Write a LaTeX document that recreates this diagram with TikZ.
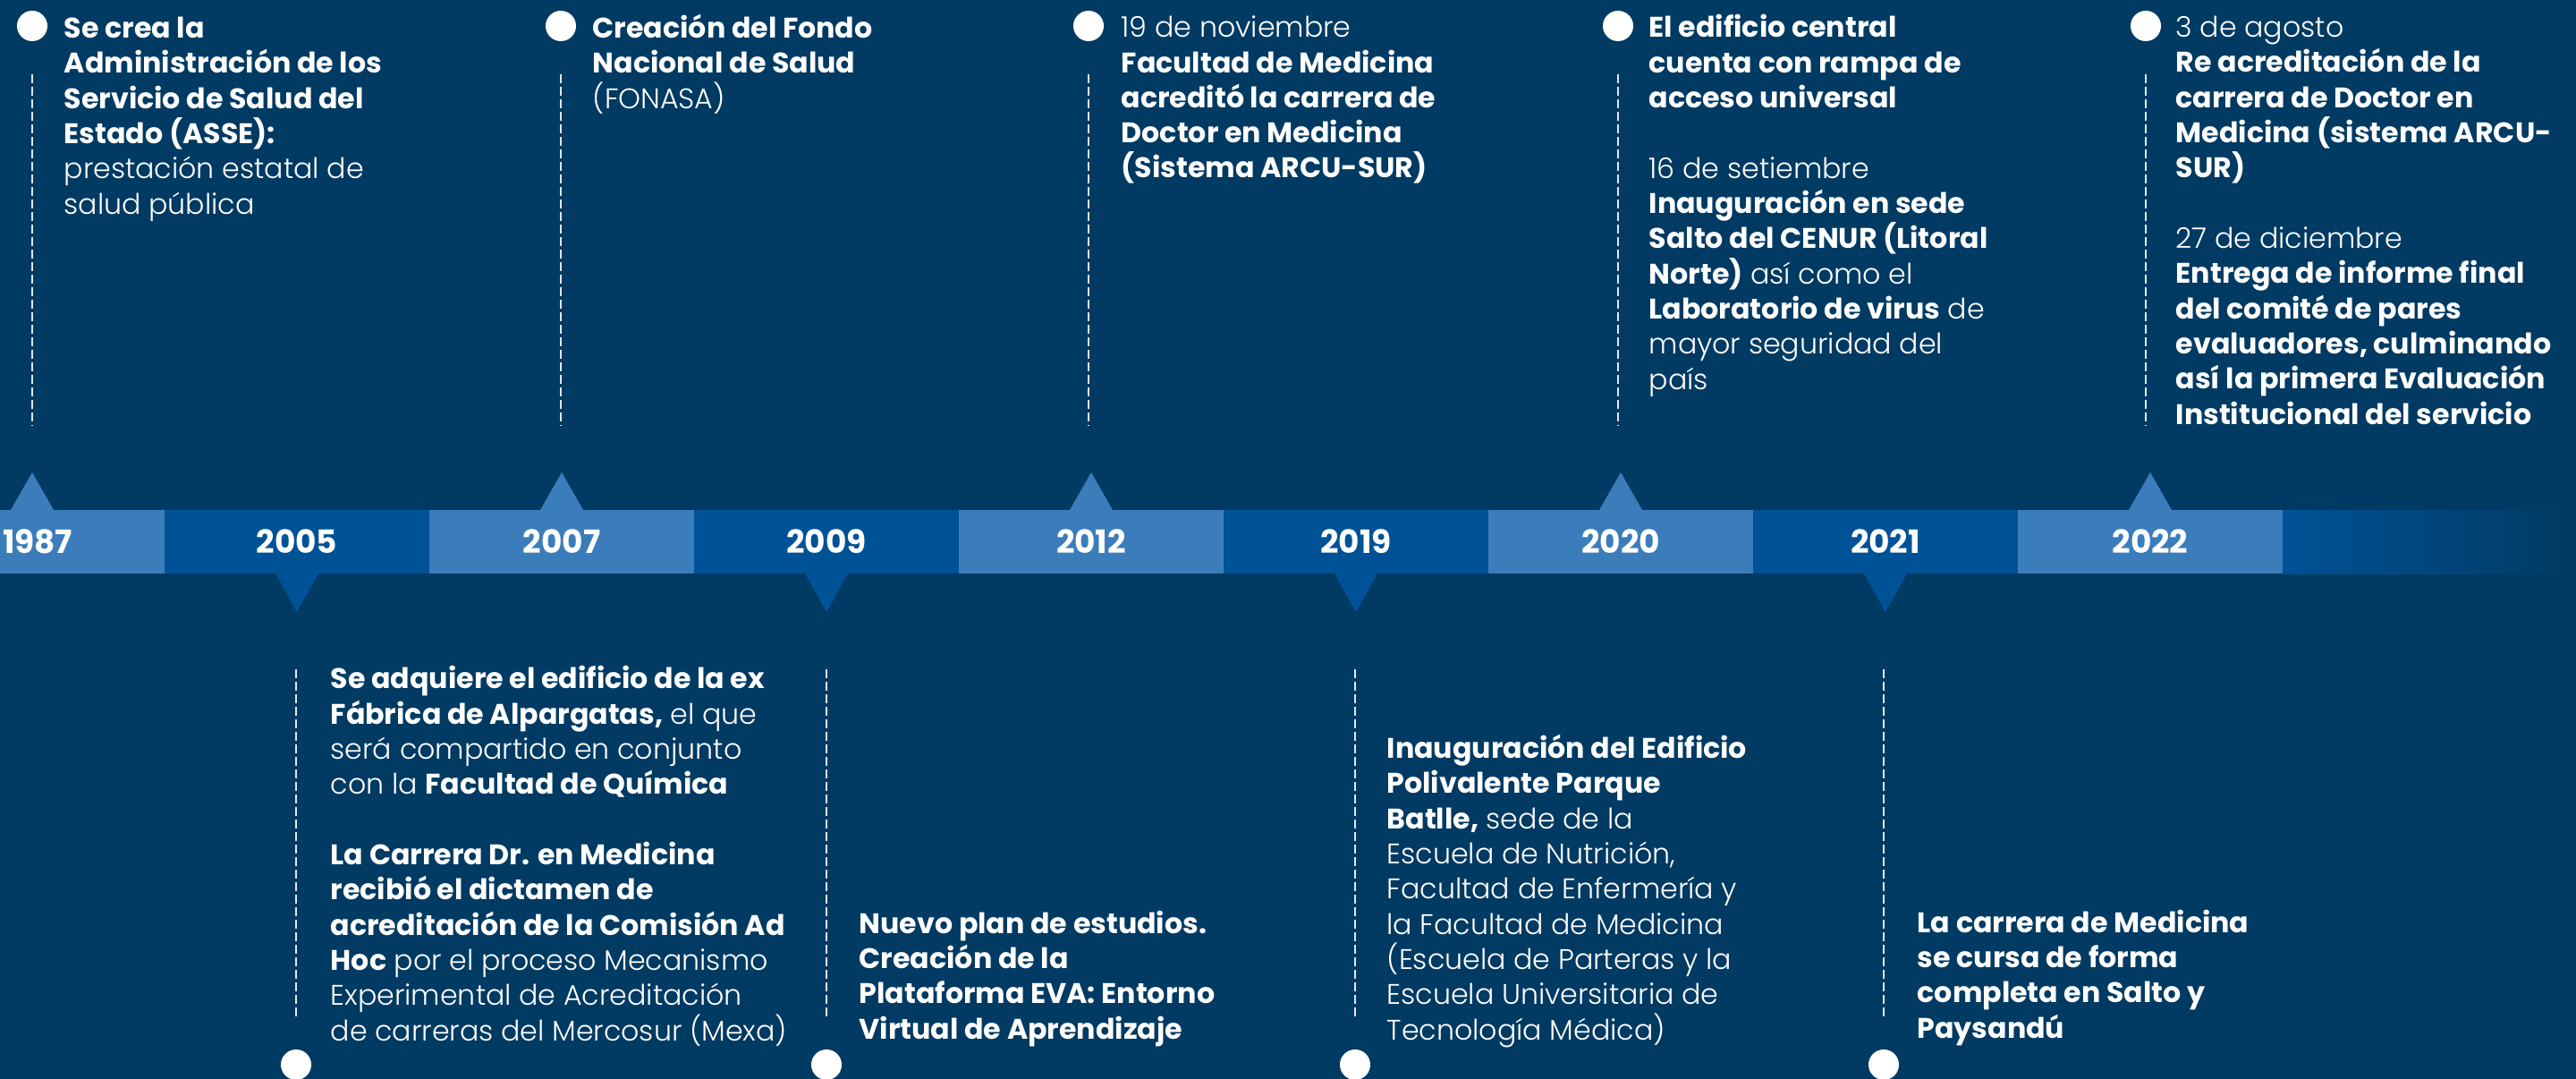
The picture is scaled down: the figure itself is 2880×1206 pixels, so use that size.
\documentclass[tikz,border=0pt]{standalone}
\usepackage{fontspec}
\setmainfont{Poppins}[UprightFont=* Light,BoldFont=* Bold]

\definecolor{bgnavy}{HTML}{013A62}
\definecolor{seglight}{HTML}{3B7DBA}
\definecolor{segdark}{HTML}{005296}

\tikzset{
  seg/.style={minimum width=2.96cm,minimum height=0.71cm,inner sep=0pt,outer sep=0pt,
    text=white,font=\fontsize{10.2}{12}\selectfont\bfseries},
  seglt/.style={seg,fill=seglight},
  segdk/.style={seg,fill=segdark},
  dot/.style={circle,fill=white,minimum size=0.34cm,inner sep=0pt},
  dashline/.style={white!88!bgnavy,line width=0.022cm,dash pattern=on 0.1cm off 0.04cm,shorten <=0.36cm},
  evtxt/.style={align=left,inner sep=0pt,anchor=base west,text=white,
    font=\fontsize{9}{11.18}\selectfont}
}

\begin{document}
\begin{tikzpicture}[x=0.01cm,y=-0.01cm]
        \clip (0,0) rectangle (2880,1206);
        \fill[bgnavy] (0,0) rectangle (2880,1206);
        \shade[left color=segdark,right color=bgnavy] (2552,570) rectangle (2880,641);

        \node[seglt] (y1987) at (36,605.5) {\hspace*{0.12cm}1987};
        \foreach \yr/\cx/\sty in {2005/332/segdk,2007/628/seglt,2009/924/segdk,
                2012/1220/seglt,2019/1516/segdk,2020/1812/seglt,2021/2108/segdk,2022/2404/seglt}
                \node[\sty] (y\yr) at (\cx,605.5) {\yr};

        \foreach \yr in {1987,2007,2012,2020,2022}
                \fill[seglight] (y\yr.north) ++(-24,0) -- ++(24,-42) -- ++(24,42) -- cycle;
        \foreach \yr in {2005,2009,2019,2021}
                \fill[segdark] (y\yr.south) ++(-24,0) -- ++(24,43) -- ++(24,-43) -- cycle;

        \foreach \yr/\cx in {1987/36,2007/627,2012/1217,2020/1809,2022/2399} {
                \node[dot] (c\yr) at (\cx,29) {};
                \coordinate (e\yr) at (\cx,475);
                \draw[dashline] (c\yr) -- (e\yr);
        }
        \foreach \yr/\cx in {2005/331,2009/924,2019/1515,2021/2106} {
                \node[dot] (c\yr) at (\cx,1190) {};
                \coordinate (e\yr) at (\cx,745);
                \draw[dashline] (c\yr) -- (e\yr);
        }

        \node[evtxt] (t1987) at (71,239) {\textbf{Se crea la}\\\textbf{Administración de los}\\
                \textbf{Servicio de Salud del}\\\textbf{Estado (ASSE):}\\prestación estatal de\\salud pública};
        \node[evtxt] (t2007) at (662,121) {\textbf{Creación del Fondo}\\\textbf{Nacional de Salud}\\(FONASA)};
        \node[evtxt] (t2012) at (1253,199) {19 de noviembre\\\textbf{Facultad de Medicina}\\
                \textbf{acreditó la carrera de}\\\textbf{Doctor en Medicina}\\\textbf{(Sistema ARCU-SUR)}};
        \node[evtxt] (t2020) at (1843,435) {\textbf{El edificio central}\\\textbf{cuenta con rampa de}\\
                \textbf{acceso universal}\\[11.18pt]16 de setiembre\\\textbf{Inauguración en sede}\\
                \textbf{Salto del CENUR (Litoral}\\\textbf{Norte)} así como el\\
                \textbf{Laboratorio de virus} de\\mayor seguridad del\\país};
        \node[evtxt] (t2022) at (2432,474) {3 de agosto\\\textbf{Re acreditación de la}\\
                \textbf{carrera de Doctor en}\\\textbf{Medicina (sistema ARCU-}\\\textbf{SUR)}\\[11.18pt]
                27 de diciembre\\\textbf{Entrega de informe final}\\\textbf{del comité de pares}\\
                \textbf{evaluadores, culminando}\\\textbf{así la primera Evaluación}\\
                \textbf{Institucional del servicio}};

        \node[evtxt] (t2005) at (369,1163) {\textbf{Se adquiere el edificio de la ex}\\
                \textbf{Fábrica de Alpargatas,} el que\\será compartido en conjunto\\
                con la \textbf{Facultad de Química}\\[11.18pt]\textbf{La Carrera Dr. en Medicina}\\
                \textbf{recibió el dictamen de}\\\textbf{acreditación de la Comisión Ad}\\
                \textbf{Hoc} por el proceso Mecanismo\\Experimental de Acreditación\\
                de carreras del Mercosur (Mexa)};
        \node[evtxt] (t2009) at (960,1161) {\textbf{Nuevo plan de estudios.}\\\textbf{Creación de la}\\
                \textbf{Plataforma EVA: Entorno}\\\textbf{Virtual de Aprendizaje}};
        \node[evtxt] (t2019) at (1550,1162) {\textbf{Inauguración del Edificio}\\\textbf{Polivalente Parque}\\
                \textbf{Batlle,} sede de la\\Escuela de Nutrición,\\Facultad de Enfermería y\\
                la Facultad de Medicina\\(Escuela de Parteras y la\\Escuela Universitaria de\\
                Tecnología Médica)};
        \node[evtxt] (t2021) at (2143,1160) {\textbf{La carrera de Medicina}\\\textbf{se cursa de forma}\\
                \textbf{completa en Salto y}\\\textbf{Paysandú}};
\end{tikzpicture}
\end{document}
